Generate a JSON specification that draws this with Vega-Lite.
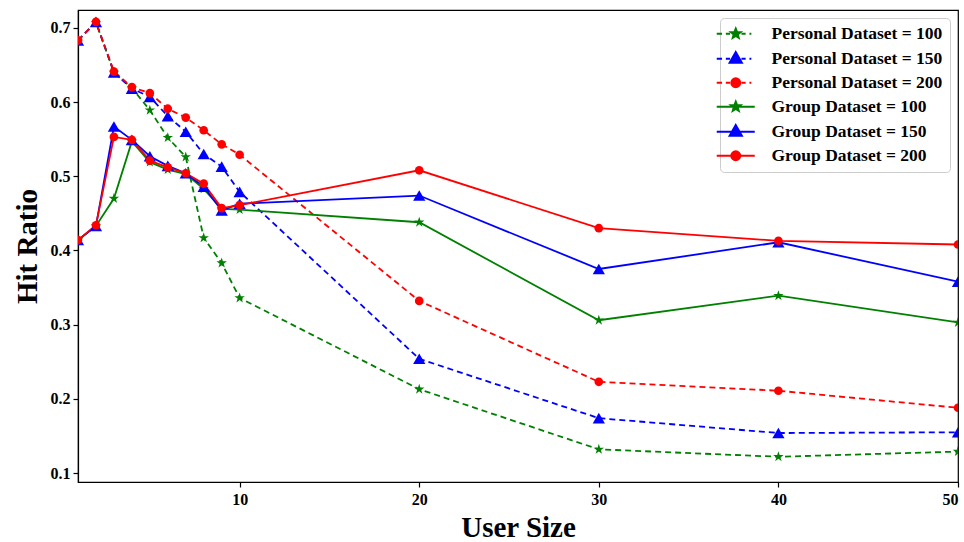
{
  "$schema": "https://vega.github.io/schema/vega-lite/v6.json",
  "autosize": {"type": "none"},
  "padding": {"left": 78, "top": 10, "right": 6, "bottom": 60},
  "width": 880,
  "height": 472,
  "background": "white",
  "config": {
    "view": {"stroke": "black", "strokeWidth": 1.2},
    "font": "Liberation Serif",
    "axis": {
      "labelFont": "Liberation Serif", "labelFontWeight": "bold", "labelFontSize": 16, "labelColor": "black",
      "titleFont": "Liberation Serif", "titleFontWeight": "bold", "titleFontSize": 29, "titleColor": "black",
      "domainColor": "black", "tickColor": "black", "tickSize": 5, "grid": false, "domainWidth": 1.2, "tickWidth": 1.2
    }
  },
  "data": {"values": [
    {"series": "Personal Dataset = 100", "x": 1, "y": 0.683}, {"series": "Personal Dataset = 100", "x": 2, "y": 0.707},
    {"series": "Personal Dataset = 100", "x": 3, "y": 0.640}, {"series": "Personal Dataset = 100", "x": 4, "y": 0.619},
    {"series": "Personal Dataset = 100", "x": 5, "y": 0.589}, {"series": "Personal Dataset = 100", "x": 6, "y": 0.552},
    {"series": "Personal Dataset = 100", "x": 7, "y": 0.526}, {"series": "Personal Dataset = 100", "x": 8, "y": 0.417},
    {"series": "Personal Dataset = 100", "x": 9, "y": 0.383}, {"series": "Personal Dataset = 100", "x": 10, "y": 0.336},
    {"series": "Personal Dataset = 100", "x": 20, "y": 0.213}, {"series": "Personal Dataset = 100", "x": 30, "y": 0.132},
    {"series": "Personal Dataset = 100", "x": 40, "y": 0.122}, {"series": "Personal Dataset = 100", "x": 50, "y": 0.129},
    {"series": "Personal Dataset = 150", "x": 1, "y": 0.683}, {"series": "Personal Dataset = 150", "x": 2, "y": 0.708},
    {"series": "Personal Dataset = 150", "x": 3, "y": 0.640}, {"series": "Personal Dataset = 150", "x": 4, "y": 0.618},
    {"series": "Personal Dataset = 150", "x": 5, "y": 0.607}, {"series": "Personal Dataset = 150", "x": 6, "y": 0.581},
    {"series": "Personal Dataset = 150", "x": 7, "y": 0.560}, {"series": "Personal Dataset = 150", "x": 8, "y": 0.530},
    {"series": "Personal Dataset = 150", "x": 9, "y": 0.513}, {"series": "Personal Dataset = 150", "x": 10, "y": 0.479},
    {"series": "Personal Dataset = 150", "x": 20, "y": 0.254}, {"series": "Personal Dataset = 150", "x": 30, "y": 0.174},
    {"series": "Personal Dataset = 150", "x": 40, "y": 0.154}, {"series": "Personal Dataset = 150", "x": 50, "y": 0.155},
    {"series": "Personal Dataset = 200", "x": 1, "y": 0.683}, {"series": "Personal Dataset = 200", "x": 2, "y": 0.708},
    {"series": "Personal Dataset = 200", "x": 3, "y": 0.641}, {"series": "Personal Dataset = 200", "x": 4, "y": 0.620},
    {"series": "Personal Dataset = 200", "x": 5, "y": 0.612}, {"series": "Personal Dataset = 200", "x": 6, "y": 0.591},
    {"series": "Personal Dataset = 200", "x": 7, "y": 0.579}, {"series": "Personal Dataset = 200", "x": 8, "y": 0.562},
    {"series": "Personal Dataset = 200", "x": 9, "y": 0.543}, {"series": "Personal Dataset = 200", "x": 10, "y": 0.529},
    {"series": "Personal Dataset = 200", "x": 20, "y": 0.332}, {"series": "Personal Dataset = 200", "x": 30, "y": 0.223},
    {"series": "Personal Dataset = 200", "x": 40, "y": 0.211}, {"series": "Personal Dataset = 200", "x": 50, "y": 0.188},
    {"series": "Group Dataset = 100", "x": 1, "y": 0.414}, {"series": "Group Dataset = 100", "x": 2, "y": 0.433},
    {"series": "Group Dataset = 100", "x": 3, "y": 0.470}, {"series": "Group Dataset = 100", "x": 4, "y": 0.547},
    {"series": "Group Dataset = 100", "x": 5, "y": 0.519}, {"series": "Group Dataset = 100", "x": 6, "y": 0.509},
    {"series": "Group Dataset = 100", "x": 7, "y": 0.503}, {"series": "Group Dataset = 100", "x": 8, "y": 0.483},
    {"series": "Group Dataset = 100", "x": 9, "y": 0.456}, {"series": "Group Dataset = 100", "x": 10, "y": 0.455},
    {"series": "Group Dataset = 100", "x": 20, "y": 0.438}, {"series": "Group Dataset = 100", "x": 30, "y": 0.306},
    {"series": "Group Dataset = 100", "x": 40, "y": 0.339}, {"series": "Group Dataset = 100", "x": 50, "y": 0.303},
    {"series": "Group Dataset = 150", "x": 1, "y": 0.414}, {"series": "Group Dataset = 150", "x": 2, "y": 0.433},
    {"series": "Group Dataset = 150", "x": 3, "y": 0.567}, {"series": "Group Dataset = 150", "x": 4, "y": 0.549},
    {"series": "Group Dataset = 150", "x": 5, "y": 0.527}, {"series": "Group Dataset = 150", "x": 6, "y": 0.514},
    {"series": "Group Dataset = 150", "x": 7, "y": 0.504}, {"series": "Group Dataset = 150", "x": 8, "y": 0.486},
    {"series": "Group Dataset = 150", "x": 9, "y": 0.454}, {"series": "Group Dataset = 150", "x": 10, "y": 0.463},
    {"series": "Group Dataset = 150", "x": 20, "y": 0.474}, {"series": "Group Dataset = 150", "x": 30, "y": 0.375},
    {"series": "Group Dataset = 150", "x": 40, "y": 0.411}, {"series": "Group Dataset = 150", "x": 50, "y": 0.358},
    {"series": "Group Dataset = 200", "x": 1, "y": 0.414}, {"series": "Group Dataset = 200", "x": 2, "y": 0.434},
    {"series": "Group Dataset = 200", "x": 3, "y": 0.553}, {"series": "Group Dataset = 200", "x": 4, "y": 0.549},
    {"series": "Group Dataset = 200", "x": 5, "y": 0.521}, {"series": "Group Dataset = 200", "x": 6, "y": 0.512},
    {"series": "Group Dataset = 200", "x": 7, "y": 0.504}, {"series": "Group Dataset = 200", "x": 8, "y": 0.490},
    {"series": "Group Dataset = 200", "x": 9, "y": 0.457}, {"series": "Group Dataset = 200", "x": 10, "y": 0.461},
    {"series": "Group Dataset = 200", "x": 20, "y": 0.508}, {"series": "Group Dataset = 200", "x": 30, "y": 0.430},
    {"series": "Group Dataset = 200", "x": 40, "y": 0.413}, {"series": "Group Dataset = 200", "x": 50, "y": 0.408}
  ]},
  "encoding": {
    "x": {"field": "x", "type": "quantitative", "title": "User Size",
      "scale": {"domain": [1, 50], "nice": false, "zero": false},
      "axis": {"values": [10, 20, 30, 40, 50], "labelPadding": 4, "titlePadding": 6}},
    "y": {"field": "y", "type": "quantitative", "title": "Hit Ratio",
      "scale": {"domain": [0.088, 0.724], "nice": false, "zero": false},
      "axis": {"values": [0.1, 0.2, 0.3, 0.4, 0.5, 0.6, 0.7], "format": ".1f", "labelPadding": 3, "titlePadding": 8}},
    "color": {"field": "series", "type": "nominal",
      "scale": {"domain": ["Personal Dataset = 100", "Personal Dataset = 150", "Personal Dataset = 200", "Group Dataset = 100", "Group Dataset = 150", "Group Dataset = 200"],
        "range": ["#008000", "#0000ff", "#ff0000", "#008000", "#0000ff", "#ff0000"]},
      "legend": {
        "title": null, "orient": "top-right", "offset": 8,
        "labelFont": "Liberation Serif", "labelFontWeight": "bold", "labelFontSize": 17.5, "labelColor": "black", "labelLimit": 400,
        "symbolSize": 100, "labelOffset": 27, "rowPadding": 5, "padding": 7,
        "strokeColor": "#cccccc", "cornerRadius": 4, "fillColor": "white",
        "encode": {"symbols": {"update": {
          "shape": {"signal": "(indexof(datum.label,'Personal')===0 ? 'M-3.8,0H-2.74M-1.98,0H-1.14M1.14,0H1.98M2.74,0H3.12' : 'M-3.8,0H3.8') + (indexof(datum.label,'100')>=0 ? 'M0,-1.064L0.27,-0.369L1.011,-0.331L0.433,0.141L0.627,0.863L0,0.456L-0.627,0.863L-0.433,0.141L-1.011,-0.331L-0.27,-0.369Z' : (indexof(datum.label,'150')>=0 ? 'M0,-1.368L1.254,0.836L-1.254,0.836Z' : 'M0.912,0A0.912,0.912 0 1,1 -0.912,0A0.912,0.912 0 1,1 0.912,0Z'))"},
          "size": {"value": 100},
          "fill": {"signal": "scale('color', datum.value)"},
          "stroke": {"signal": "scale('color', datum.value)"},
          "strokeWidth": {"value": 1.8},
          "opacity": {"value": 1},
          "fillOpacity": {"value": 1},
          "strokeOpacity": {"value": 1}
        }}}
      }
    }
  },
  "layer": [
    {
      "transform": [{"filter": {"field": "series", "oneOf": ["Personal Dataset = 100", "Personal Dataset = 150", "Personal Dataset = 200"]}}],
      "mark": {"type": "line", "strokeWidth": 1.8, "strokeDash": [6, 4], "clip": true},
      "encoding": {}
    },
    {
      "transform": [{"filter": {"field": "series", "oneOf": ["Group Dataset = 100", "Group Dataset = 150", "Group Dataset = 200"]}}],
      "mark": {"type": "line", "strokeWidth": 1.8, "clip": true},
      "encoding": {}
    },
    {
      "transform": [{"filter": {"field": "series", "oneOf": ["Personal Dataset = 100", "Group Dataset = 100"]}}],
      "mark": {"type": "point", "filled": true, "opacity": 1, "clip": true, "size": 121,
        "shape": "M0,-1L0.2245,-0.309L0.951,-0.309L0.363,0.118L0.588,0.809L0,0.382L-0.588,0.809L-0.363,0.118L-0.951,-0.309L-0.2245,-0.309Z"},
      "encoding": {}
    },
    {
      "transform": [{"filter": {"field": "series", "oneOf": ["Personal Dataset = 150", "Group Dataset = 150"]}}],
      "mark": {"type": "point", "filled": true, "opacity": 1, "clip": true, "size": 150, "shape": "triangle-up"},
      "encoding": {}
    },
    {
      "transform": [{"filter": {"field": "series", "oneOf": ["Personal Dataset = 200", "Group Dataset = 200"]}}],
      "mark": {"type": "point", "filled": true, "opacity": 1, "clip": true, "size": 75, "shape": "circle"},
      "encoding": {}
    }
  ]
}
